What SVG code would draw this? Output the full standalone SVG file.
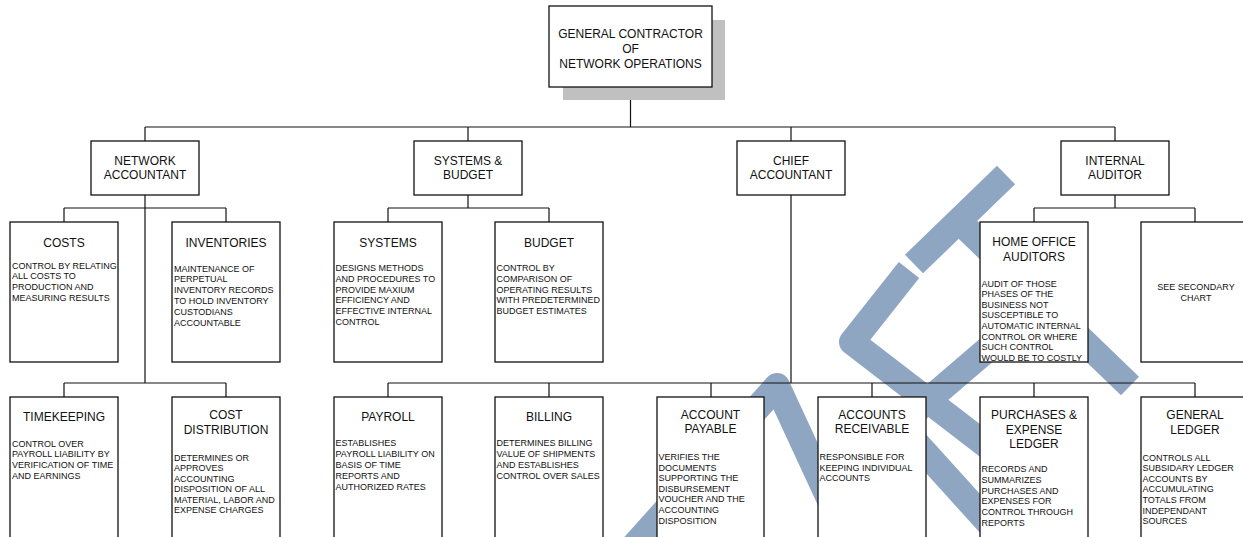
<svg xmlns="http://www.w3.org/2000/svg" width="1243" height="537" viewBox="0 0 1243 537">
<style>
text{font-family:"Liberation Sans",Arial,sans-serif;fill:#111}
.t{font-size:12px;text-anchor:middle}
.d{font-size:9px}
.c{font-size:9px;text-anchor:middle}
.box{fill:#fff;stroke:#111;stroke-width:1.3}
.wm{fill:none;stroke:#8fa6c3;stroke-width:26;stroke-linecap:butt;stroke-linejoin:round}
#connectors path{fill:none;stroke:#111;stroke-width:1.2}
</style>
<rect width="1243" height="537" fill="#fff"/>
<g id="watermark">
<path class="wm" d="M632,548 L777,386 L852,548"/>
<path class="wm" d="M909,270 L852,342 L995,452"/>
<path class="wm" d="M914,264 L1006,175"/>
<path class="wm" d="M962,224 L1130,386"/>
<path class="wm" d="M1010,330 L912,414"/>
<path class="wm" d="M900,425 L995,530"/>
</g>
<g id="connectors">
<path d="M630.5,87 V127 M145,127 H1115 M145,127 V141 M468,127 V141 M791,127 V141 M1115,127 V141"/>
<path d="M145,195 V383 M64,208 H226 M64,208 V222 M226,208 V222 M64,383 H226 M64,383 V397 M226,383 V397"/>
<path d="M468,195 V208 M388,208 H549 M388,208 V222 M549,208 V222"/>
<path d="M791,195 V383 M388,383 H1195 M388,383 V397 M549,383 V397 M711,383 V397 M872,383 V397 M1034,383 V397 M1195,383 V397"/>
<path d="M1115,195 V208 M1034,208 H1195 M1034,208 V222 M1195,208 V222"/>
</g>
<g id="general-contractor">
<rect x="563" y="20" width="162" height="80" fill="#c0c0c0"/>
<rect class="box" x="549" y="6" width="163" height="81"/>
<text class="t" x="630.5" y="37.5">GENERAL CONTRACTOR</text>
<text class="t" x="630.5" y="52.5">OF</text>
<text class="t" x="630.5" y="67.5">NETWORK OPERATIONS</text>
</g>
<g id="network-accountant">
<rect class="box" x="91" y="141" width="108" height="54"/>
<text class="t" x="145" y="164.5">NETWORK</text>
<text class="t" x="145" y="178.5">ACCOUNTANT</text>
</g>
<g id="systems-budget">
<rect class="box" x="414" y="141" width="108" height="54"/>
<text class="t" x="468" y="164.5">SYSTEMS &amp;</text>
<text class="t" x="468" y="178.5">BUDGET</text>
</g>
<g id="chief-accountant">
<rect class="box" x="737" y="141" width="108" height="54"/>
<text class="t" x="791" y="164.5">CHIEF</text>
<text class="t" x="791" y="178.5">ACCOUNTANT</text>
</g>
<g id="internal-auditor">
<rect class="box" x="1061" y="141" width="108" height="54"/>
<text class="t" x="1115" y="164.5">INTERNAL</text>
<text class="t" x="1115" y="178.5">AUDITOR</text>
</g>
<g id="costs">
<rect class="box" x="10" y="222" width="108" height="140"/>
<text class="t" x="64" y="246.5">COSTS</text>
<text class="d"><tspan x="12" y="268.5">CONTROL BY RELATING</tspan><tspan x="12" y="279.3">ALL COSTS TO</tspan><tspan x="12" y="290.1">PRODUCTION AND</tspan><tspan x="12" y="300.9">MEASURING RESULTS</tspan></text>
</g>
<g id="inventories">
<rect class="box" x="172" y="222" width="108" height="140"/>
<text class="t" x="226" y="246.5">INVENTORIES</text>
<text class="d"><tspan x="174" y="271.5">MAINTENANCE OF</tspan><tspan x="174" y="282.3">PERPETUAL</tspan><tspan x="174" y="293.1">INVENTORY RECORDS</tspan><tspan x="174" y="303.9">TO HOLD INVENTORY</tspan><tspan x="174" y="314.7">CUSTODIANS</tspan><tspan x="174" y="325.5">ACCOUNTABLE</tspan></text>
</g>
<g id="systems">
<rect class="box" x="334" y="222" width="108" height="140"/>
<text class="t" x="388" y="246.5">SYSTEMS</text>
<text class="d"><tspan x="335.5" y="271">DESIGNS METHODS</tspan><tspan x="335.5" y="281.8">AND PROCEDURES TO</tspan><tspan x="335.5" y="292.6">PROVIDE MAXIUM</tspan><tspan x="335.5" y="303.4">EFFICIENCY AND</tspan><tspan x="335.5" y="314.2">EFFECTIVE INTERNAL</tspan><tspan x="335.5" y="325">CONTROL</tspan></text>
</g>
<g id="budget">
<rect class="box" x="495" y="222" width="108" height="140"/>
<text class="t" x="549" y="246.5">BUDGET</text>
<text class="d"><tspan x="496.5" y="271">CONTROL BY</tspan><tspan x="496.5" y="281.8">COMPARISON OF</tspan><tspan x="496.5" y="292.6">OPERATING RESULTS</tspan><tspan x="496.5" y="303.4">WITH PREDETERMINED</tspan><tspan x="496.5" y="314.2">BUDGET ESTIMATES</tspan></text>
</g>
<g id="home-office-auditors">
<rect class="box" x="980" y="222" width="108" height="140"/>
<text class="t" x="1034" y="246">HOME OFFICE</text>
<text class="t" x="1034" y="260.5">AUDITORS</text>
<text class="d"><tspan x="981.5" y="286.5">AUDIT OF THOSE</tspan><tspan x="981.5" y="297.1">PHASES OF THE</tspan><tspan x="981.5" y="307.7">BUSINESS NOT</tspan><tspan x="981.5" y="318.3">SUSCEPTIBLE TO</tspan><tspan x="981.5" y="328.9">AUTOMATIC INTERNAL</tspan><tspan x="981.5" y="339.5">CONTROL OR WHERE</tspan><tspan x="981.5" y="350.1">SUCH CONTROL</tspan><tspan x="981.5" y="360.7">WOULD BE TO COSTLY</tspan></text>
</g>
<g id="see-secondary-chart">
<rect class="box" x="1141" y="222" width="108" height="140"/>
<text class="c" x="1196" y="290">SEE SECONDARY</text>
<text class="c" x="1196" y="300.6">CHART</text>
</g>
<g id="timekeeping">
<rect class="box" x="10" y="397" width="108" height="150"/>
<text class="t" x="64" y="421">TIMEKEEPING</text>
<text class="d"><tspan x="12" y="446.5">CONTROL OVER</tspan><tspan x="12" y="457.3">PAYROLL LIABILITY BY</tspan><tspan x="12" y="468.1">VERIFICATION OF TIME</tspan><tspan x="12" y="478.9">AND EARNINGS</tspan></text>
</g>
<g id="cost-distribution">
<rect class="box" x="172" y="397" width="108" height="150"/>
<text class="t" x="226" y="419.3">COST</text>
<text class="t" x="226" y="433.6">DISTRIBUTION</text>
<text class="d"><tspan x="174" y="460.5">DETERMINES OR</tspan><tspan x="174" y="471">APPROVES</tspan><tspan x="174" y="481.5">ACCOUNTING</tspan><tspan x="174" y="492">DISPOSITION OF ALL</tspan><tspan x="174" y="502.5">MATERIAL, LABOR AND</tspan><tspan x="174" y="513">EXPENSE CHARGES</tspan></text>
</g>
<g id="payroll">
<rect class="box" x="334" y="397" width="108" height="150"/>
<text class="t" x="388" y="421">PAYROLL</text>
<text class="d"><tspan x="335.5" y="446">ESTABLISHES</tspan><tspan x="335.5" y="457.1">PAYROLL LIABILITY ON</tspan><tspan x="335.5" y="468.2">BASIS OF TIME</tspan><tspan x="335.5" y="479.3">REPORTS AND</tspan><tspan x="335.5" y="490.4">AUTHORIZED RATES</tspan></text>
</g>
<g id="billing">
<rect class="box" x="495" y="397" width="108" height="150"/>
<text class="t" x="549" y="421">BILLING</text>
<text class="d"><tspan x="496.5" y="446">DETERMINES BILLING</tspan><tspan x="496.5" y="457.1">VALUE OF SHIPMENTS</tspan><tspan x="496.5" y="468.2">AND ESTABLISHES</tspan><tspan x="496.5" y="479.3">CONTROL OVER SALES</tspan></text>
</g>
<g id="account-payable">
<rect class="box" x="657" y="397" width="107" height="150"/>
<text class="t" x="710.5" y="418.6">ACCOUNT</text>
<text class="t" x="710.5" y="433">PAYABLE</text>
<text class="d"><tspan x="658.5" y="460">VERIFIES THE</tspan><tspan x="658.5" y="470.6">DOCUMENTS</tspan><tspan x="658.5" y="481.2">SUPPORTING THE</tspan><tspan x="658.5" y="491.8">DISBURSEMENT</tspan><tspan x="658.5" y="502.4">VOUCHER AND THE</tspan><tspan x="658.5" y="513">ACCOUNTING</tspan><tspan x="658.5" y="523.6">DISPOSITION</tspan></text>
</g>
<g id="accounts-receivable">
<rect class="box" x="818" y="397" width="108" height="150"/>
<text class="t" x="872" y="418.6">ACCOUNTS</text>
<text class="t" x="872" y="433">RECEIVABLE</text>
<text class="d"><tspan x="819.5" y="460">RESPONSIBLE FOR</tspan><tspan x="819.5" y="470.6">KEEPING INDIVIDUAL</tspan><tspan x="819.5" y="481.2">ACCOUNTS</tspan></text>
</g>
<g id="purchases-expense-ledger">
<rect class="box" x="980" y="397" width="108" height="150"/>
<text class="t" x="1034" y="418.6">PURCHASES &amp;</text>
<text class="t" x="1034" y="433.6">EXPENSE</text>
<text class="t" x="1034" y="448.3">LEDGER</text>
<text class="d"><tspan x="981.5" y="472.2">RECORDS AND</tspan><tspan x="981.5" y="482.9">SUMMARIZES</tspan><tspan x="981.5" y="493.6">PURCHASES AND</tspan><tspan x="981.5" y="504.3">EXPENSES FOR</tspan><tspan x="981.5" y="515">CONTROL THROUGH</tspan><tspan x="981.5" y="525.7">REPORTS</tspan></text>
</g>
<g id="general-ledger">
<rect class="box" x="1141" y="397" width="108" height="150"/>
<text class="t" x="1195" y="418.6">GENERAL</text>
<text class="t" x="1195" y="433.6">LEDGER</text>
<text class="d"><tspan x="1142.5" y="460.5">CONTROLS ALL</tspan><tspan x="1142.5" y="471.1">SUBSIDARY LEDGER</tspan><tspan x="1142.5" y="481.7">ACCOUNTS BY</tspan><tspan x="1142.5" y="492.3">ACCUMULATING</tspan><tspan x="1142.5" y="502.9">TOTALS FROM</tspan><tspan x="1142.5" y="513.5">INDEPENDANT</tspan><tspan x="1142.5" y="524.1">SOURCES</tspan></text>
</g>
</svg>
